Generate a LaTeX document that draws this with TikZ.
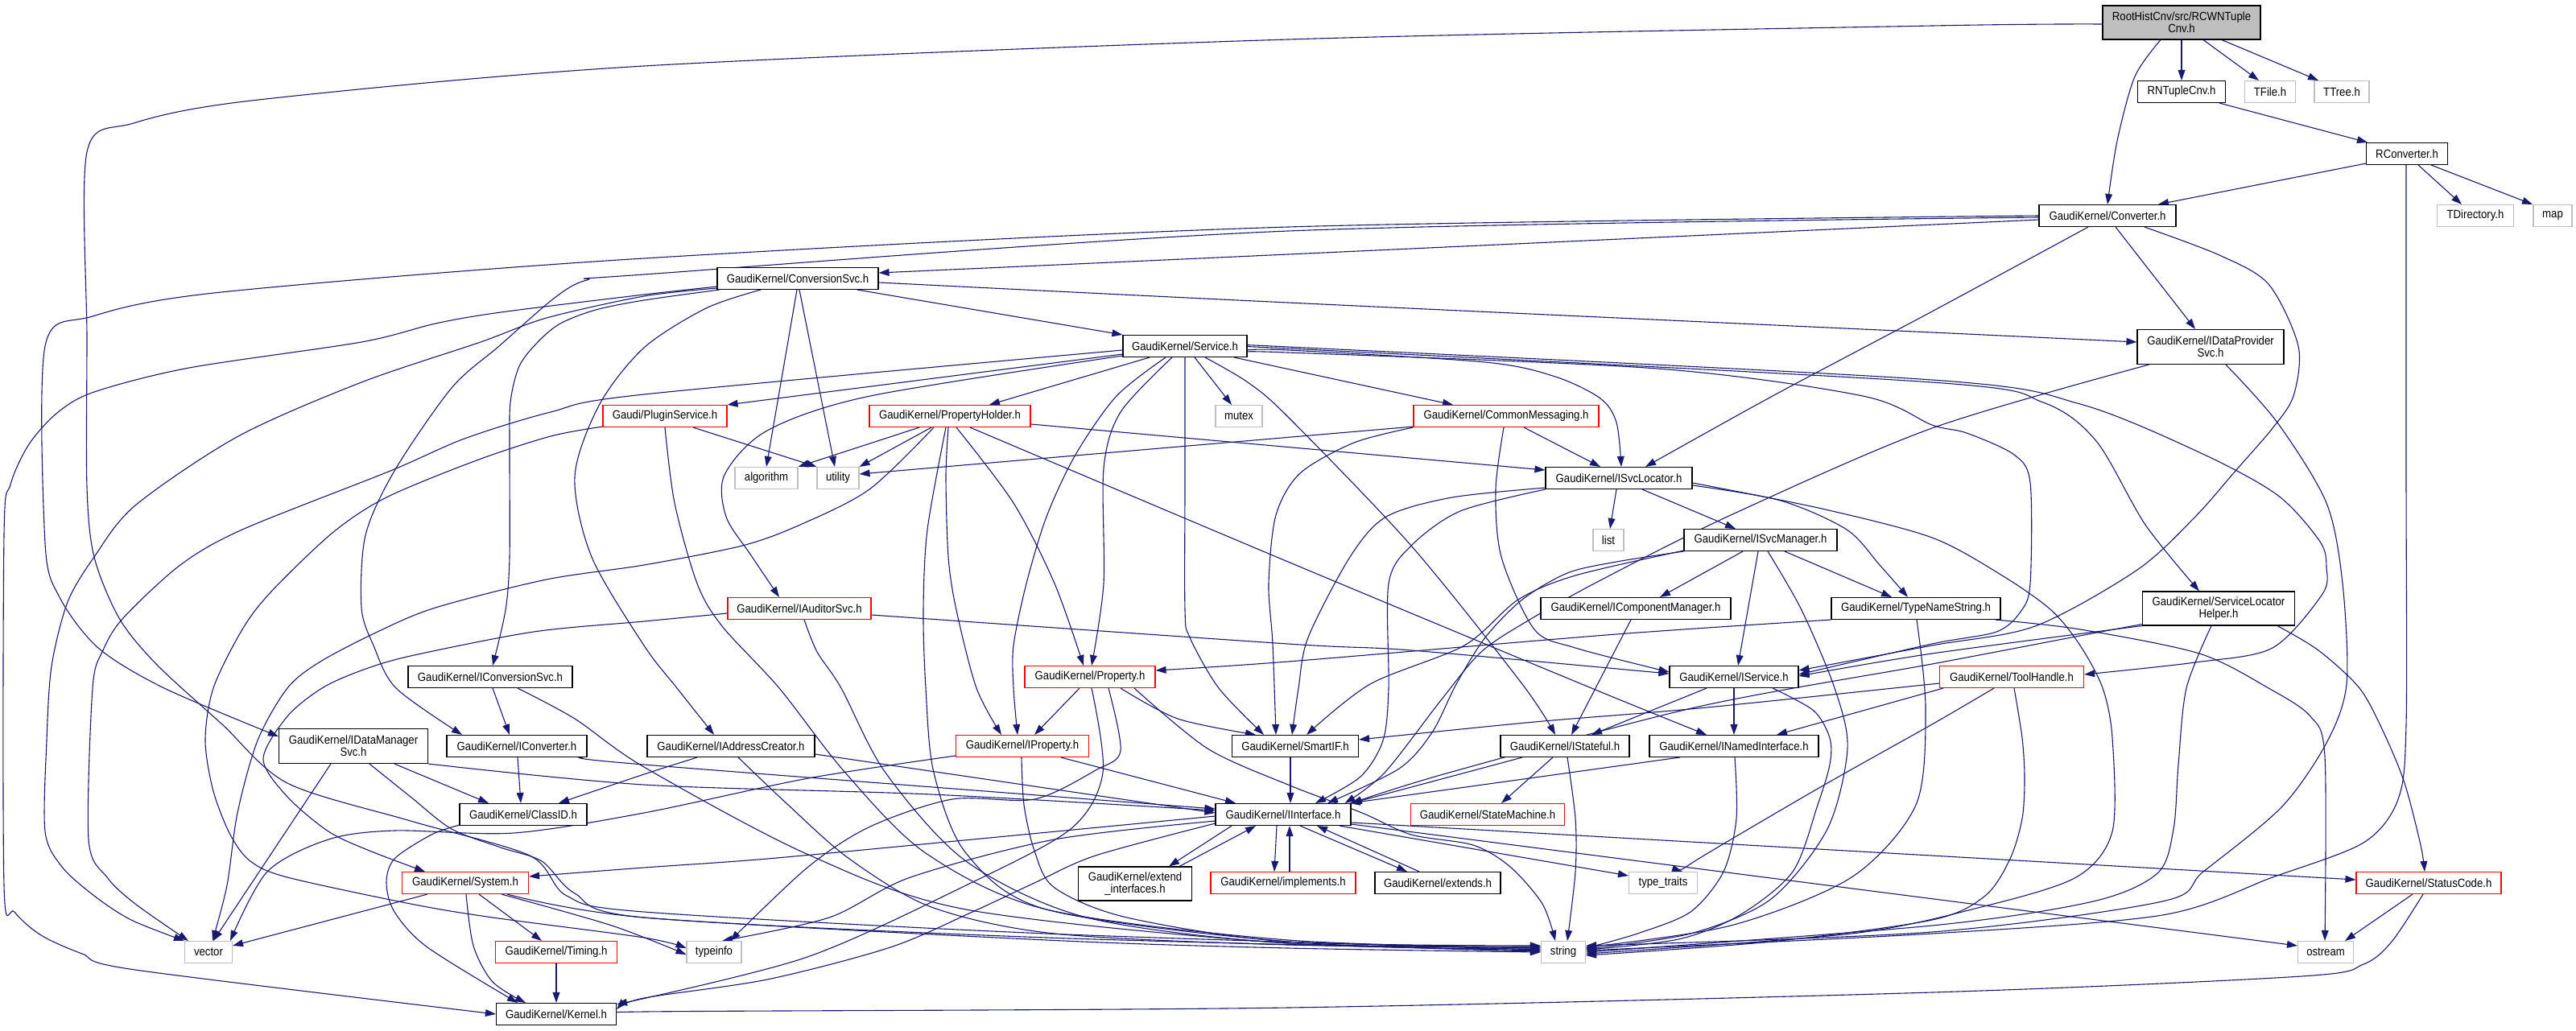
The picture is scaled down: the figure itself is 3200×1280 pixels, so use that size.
\documentclass[tikz,border=0pt]{standalone}
\usepackage{fontspec}
\setmainfont{Liberation Sans}[FakeStretch=0.89]
\usetikzlibrary{calc,arrows.meta}
\definecolor{dblue}{HTML}{191970}
\definecolor{lgray}{HTML}{BFBFBF}
\pgfdeclarelayer{bg}
\pgfsetlayers{bg,main}
\newcommand{\lk}[1]{\draw[lnk] plot[smooth,tension=0.5] coordinates {#1};}
\begin{document}
\begin{tikzpicture}[x=0.5pt,y=-0.5pt,
  box/.style={draw=black,fill=white,line width=0.55pt,inner sep=0pt,minimum height=13.5pt,
    font=\fontsize{7.4}{7.5}\selectfont,align=center},
  rbox/.style={box,draw=red},
  gbox/.style={box,draw=lgray},
  lnk/.style={draw=dblue,line width=0.55pt,-{Triangle[length=6.5pt,width=4.4pt]}}]
\useasboundingbox (0,0) rectangle (3200,1280);
% ---------------- nodes
\node[box,minimum width=98pt,minimum height=21pt,fill=lgray] (root) at (2710,28) {RootHistCnv/src/RCWNTuple\\Cnv.h};
\node[box,minimum width=54.5pt] (rntuple) at (2710,114) {RNTupleCnv.h};
\node[gbox,minimum width=31.5pt] (tfile) at (2820,114) {TFile.h};
\node[gbox,minimum width=34pt] (ttree) at (2909,114) {TTree.h};
\node[box,minimum width=50.5pt] (rconv) at (2990,191) {RConverter.h};
\node[box,minimum width=85pt] (conv) at (2618,268) {GaudiKernel/Converter.h};
\node[gbox,minimum width=47.5pt] (tdir) at (3075,268) {TDirectory.h};
\node[gbox,minimum width=24pt] (map) at (3171,268) {map};
\node[box,minimum width=100pt] (convsvc) at (991,346) {GaudiKernel/ConversionSvc.h};
\node[box,minimum width=77pt] (service) at (1472,430) {GaudiKernel/Service.h};
\node[box,minimum width=91pt,minimum height=21.5pt] (idps) at (2746,431) {GaudiKernel/IDataProvider\\Svc.h};
\node[rbox,minimum width=77pt] (plugin) at (826,517) {Gaudi/PluginService.h};
\node[rbox,minimum width=100pt] (propholder) at (1180,517) {GaudiKernel/PropertyHolder.h};
\node[gbox,minimum width=29pt] (mutex) at (1539,517) {mutex};
\node[rbox,minimum width=115pt] (commsg) at (1871,517) {GaudiKernel/CommonMessaging.h};
\node[gbox,minimum width=39pt] (algorithm) at (952,594) {algorithm};
\node[gbox,minimum width=26pt] (utility) at (1041,594) {utility};
\node[box,minimum width=91pt] (isvcloc) at (2011,594) {GaudiKernel/ISvcLocator.h};
\node[gbox,minimum width=19pt] (list) at (1998,671) {list};
\node[box,minimum width=95pt] (isvcmgr) at (2187,671) {GaudiKernel/ISvcManager.h};
\node[box,minimum width=118pt] (icompmgr) at (2032,756) {GaudiKernel/IComponentManager.h};
\node[box,minimum width=105pt] (typename) at (2380,756) {GaudiKernel/TypeNameString.h};
\node[box,minimum width=94.5pt,minimum height=21pt] (slh) at (2756,756) {GaudiKernel/ServiceLocator\\Helper.h};
\node[rbox,minimum width=89pt] (iauditor) at (993,756) {GaudiKernel/IAuditorSvc.h};
\node[box,minimum width=102pt] (iconvsvc) at (609,841) {GaudiKernel/IConversionSvc.h};
\node[rbox,minimum width=81pt] (property) at (1354,841) {GaudiKernel/Property.h};
\node[box,minimum width=80pt] (iservice) at (2154,841) {GaudiKernel/IService.h};
\node[rbox,minimum width=89.5pt] (toolhandle) at (2499,841) {GaudiKernel/ToolHandle.h};
\node[box,minimum width=92.5pt,minimum height=21.5pt] (idms) at (439,927) {GaudiKernel/IDataManager\\Svc.h};
\node[box,minimum width=87pt] (iconverter) at (642,927) {GaudiKernel/IConverter.h};
\node[box,minimum width=104pt] (iaddr) at (908,927) {GaudiKernel/IAddressCreator.h};
\node[rbox,minimum width=82.5pt] (iproperty) at (1270,927) {GaudiKernel/IProperty.h};
\node[box,minimum width=78.5pt] (smartif) at (1609,927) {GaudiKernel/SmartIF.h};
\node[box,minimum width=80pt] (istateful) at (1944,927) {GaudiKernel/IStateful.h};
\node[box,minimum width=105pt] (inamed) at (2154,927) {GaudiKernel/INamedInterface.h};
\node[box,minimum width=79pt] (classid) at (650,1012) {GaudiKernel/ClassID.h};
\node[box,minimum width=84pt] (iinterface) at (1594,1012) {GaudiKernel/IInterface.h};
\node[rbox,minimum width=95.5pt] (statemachine) at (1848,1012) {GaudiKernel/StateMachine.h};
\node[rbox,minimum width=78.5pt] (system) at (578,1097) {GaudiKernel/System.h};
\node[box,minimum width=70.5pt,minimum height=21pt] (extendif) at (1410,1098) {GaudiKernel/extend\\\_interfaces.h};
\node[rbox,minimum width=90pt] (implements) at (1594,1097) {GaudiKernel/implements.h};
\node[box,minimum width=78pt] (extends) at (1786,1097) {GaudiKernel/extends.h};
\node[gbox,minimum width=42.5pt] (typetraits) at (2066,1097) {type\_traits};
\node[rbox,minimum width=90pt] (statuscode) at (3017,1097) {GaudiKernel/StatusCode.h};
\node[gbox,minimum width=29.5pt] (vector) at (259,1183) {vector};
\node[rbox,minimum width=75.5pt] (timing) at (691,1183) {GaudiKernel/Timing.h};
\node[gbox,minimum width=34pt] (typeinfo) at (887,1183) {typeinfo};
\node[gbox,minimum width=27.5pt] (string) at (1942,1183) {string};
\node[gbox,minimum width=34.5pt] (ostream) at (2889,1183) {ostream};
\node[box,minimum width=74.5pt] (kernel) at (691,1260) {GaudiKernel/Kernel.h};
\begin{pgfonlayer}{bg}
% ---------------- root
\draw[lnk] (root.south) -- (rntuple.north);
\draw[lnk] ($(root.south)+(27,0)$) -- ($(tfile.north)+(-14,0)$);
\draw[lnk] ($(root.south)+(50,0)$) -- ($(ttree.north)+(-29,0)$);
\lk{($(root.south)+(-26,0)$) (2652,95) (2630,175) (conv.north)}
\lk{($(root.west)+(0,2)$) (2400,32) (1600,49) (800,82) (321,124) (166,153) (108,189) (108,420) (108,605) (117,692) (148,768) (194,825) (276,900) (357,973) (510,1020) (658,1063) (704,1113) (800,1133) (1300,1160) ($(string.west)+(0,-3)$)}
% ---------------- rntuple / rconv
\draw[lnk] ($(rntuple.south)+(47,0)$) -- ($(rconv.north)+(-49,0)$);
\draw[lnk] ($(rconv.south)+(-51,-2)$) -- ($(conv.north)+(63,0)$);
\draw[lnk] ($(rconv.south)+(14,0)$) -- ($(tdir.north)+(-17,0)$);
\draw[lnk] ($(rconv.south)+(30,0)$) -- ($(map.north)+(-25,0)$);
\lk{($(rconv.south)+(-1,0)$) (2989,600) (2989,900) (2979,993) (2936,1047) (2823,1090) (2686,1137) (2400,1160) ($(string.east)+(0,-2)$)}
% ---------------- conv
\lk{($(conv.west)+(0,5)$) (1600,316) ($(convsvc.east)+(0,-7)$)}
\lk{(conv.west) (1600,282) (800,321) (275,363) (115,393) (56,430) (56,675) (74,742) (122,805) (204,855) ($(idms.west)+(0,-12)$)}
\lk{($(conv.west)+(0,2)$) (1600,287) (800,341) (729,348) (689,370) (620,430) (561,482) (490,585) (454,665) (449,755) (464,802) (492,855) ($(iconverter.north)+(-68,0)$)}
\lk{($(conv.south)+(-24,0)$) (2400,387) (2202,492) ($(isvcloc.north)+(33,0)$)}
\draw[lnk] ($(conv.south)+(10,0)$) -- ($(idps.north)+(-19,0)$);
\lk{($(conv.south)+(46,0)$) (2757,317) (2818,353) (2855,430) (2849,492) (2823,532) (2777,585) (2727,642) (2655,708) (2528,778) (2400,802) ($(iservice.east)+(0,-8)$)}
% ---------------- convsvc
\draw[lnk] ($(convsvc.south)+(74,0)$) -- (service.north west);
\lk{($(convsvc.east)+(0,5)$) (1600,376) (2400,413) ($(idps.west)+(0,-6)$)}
\draw[lnk] ($(convsvc.south)+(-1,0)$) -- (algorithm.north);
\draw[lnk] ($(convsvc.south)+(2,0)$) -- ($(utility.north)+(-4,0)$);
\lk{($(convsvc.south)+(-46,0)$) (877,383) (800,432) (745,502) (714,592) (735,692) (800,802) (841,855) ($(iaddr.north)+(-21,0)$)}
\lk{($(convsvc.south west)+(3,0)$) (800,373) (740,385) (696,402) (668,425) (645,455) (634,500) (633,560) (633,692) (628,758) ($(iconvsvc.north)+(3,0)$)}
\lk{($(convsvc.south west)+(0,-2)$) (800,368) (679,395) (597,425) (449,475) (296,542) (168,628) (117,692) (84,748) (64,828) (58,920) (56,1033) (77,1077) (117,1113) (163,1143) (vector.north west)}
\lk{($(convsvc.south west)+(0,-4)$) (800,366) (622,388) (541,402) (449,425) (235,457) (117,487) (71,513) (36,552) (13,602) (5,665) (5,1100) (18,1133) (51,1162) (102,1185) (168,1205) (kernel.west)}
% ---------------- service
\draw[lnk] ($(service.west)+(0,10)$) -- (plugin.north east);
\draw[lnk] ($(service.south)+(-44,0)$) -- ($(propholder.north)+(49,0)$);
\draw[lnk] ($(service.south)+(12,0)$) -- ($(mutex.north)+(-9,0)$);
\draw[lnk] ($(service.south)+(61,0)$) -- ($(commsg.north)+(-66,0)$);
\lk{($(service.east)+(0,5)$) (1600,435) (1845,450) (1932,468) (1988,495) (2008,525) ($(isvcloc.north)+(3,0)$)}
\lk{($(service.west)+(0,12)$) (1081,492) (953,535) (900,590) (902,642) (933,690) ($(iauditor.north)+(-25,0)$)}
\lk{($(service.south)+(-16,0)$) (1392,512) (1371,582) (1371,725) ($(property.north)+(2,0)$)}
\lk{($(service.south)+(-24,0)$) (1387,492) (1336,565) (1300,642) (1275,725) (1259,802) (1259,855) ($(iproperty.north)+(-6,0)$)}
\lk{(service.south) (1472,600) (1472,758) (1478,792) (1514,855) ($(smartif.north)+(-39,0)$)}
\lk{($(service.south)+(25,0)$) (1550,475) (1600,518) (1753,678) (1891,850) ($(istateful.north)+(-12,0)$)}
\lk{($(service.east)+(0,8)$) (1600,438) (2059,458) (2314,492) (2400,528) (2443,538) (2502,565) (2522,600) (2522,725) (2510,760) (2480,785) (2400,800) ($(iservice.east)+(0,-3)$)}
\lk{($(service.east)+(0,2)$) (1600,433) (2400,475) (2538,500) (2604,548) (2665,652) ($(slh.north)+(-24,0)$)}
\lk{(service.east) (1600,431) (2400,472) (2584,502) (2732,562) (2829,615) (2882,673) (2890,705) (2885,738) (2823,805) (2727,823) ($(toolhandle.east)+(0,-3)$)}
\lk{($(service.west)+(0,5)$) (800,490) (684,512) (577,545) (485,585) (301,658) (224,702) (153,768) (128,808) (115,855) (110,1043) (133,1090) (168,1123) ($(vector.north)+(-25,0)$)}
% ---------------- plugin
\draw[lnk] ($(plugin.south)+(35,0)$) -- (utility.north west);
\lk{(plugin.south) (838,625) (866,725) (897,778) (968,855) (1050,960) (1150,1060) (1300,1130) (1600,1168) ($(string.west)+(0,-5)$)}
\lk{($(plugin.south west)+(0,-1)$) (684,542) (592,572) (480,618) (413,662) (337,735) (301,782) (265,855) (255,920) (265,983) (286,1037) (311,1070) (357,1090) (510,1123) (612,1140) (800,1165) ($(typeinfo.west)+(0,-5)$)}
% ---------------- propholder
\draw[lnk] ($(propholder.south)+(-38,0)$) -- (algorithm.north east);
\draw[lnk] ($(propholder.south)+(-23,0)$) -- (utility.north east);
\lk{($(propholder.south)+(8,0)$) (1259,625) (1310,725) ($(property.north)+(-8,0)$)}
\lk{($(propholder.south)+(-2,0)$) (1175,592) (1178,692) (1188,758) (1213,855) ($(iproperty.north)+(-26,0)$)}
\draw[lnk] ($(propholder.east)+(0,10)$) -- ($(isvcloc.west)+(0,-10)$);
\lk{($(propholder.south)+(25,0)$) (1600,698) (1977,855) ($(inamed.north)+(-34,0)$)}
\lk{($(propholder.south)+(-20,0)$) (1080,608) (994,652) (922,678) (800,702) (679,720) (541,755) (469,785) (398,822) (357,855) (320,920) (295,1010) (282,1100) ($(vector.north)+(5,0)$)}
\lk{($(propholder.south)+(-5,0)$) (1152,658) (1147,758) (1150,855) (1160,960) (1200,1060) (1300,1130) (1600,1170) ($(string.west)+(0,-1)$)}
% ---------------- commsg
\draw[lnk] ($(commsg.south west)+(0,-1)$) -- ($(utility.east)+(0,-5)$);
\draw[lnk] ($(commsg.south)+(22,0)$) -- ($(isvcloc.north)+(-23,0)$);
\lk{($(commsg.south)+(-3,0)$) (1858,608) (1865,692) (1906,782) (1957,805) ($(iservice.west)+(0,-6)$)}
\lk{(commsg.south west) (1682,550) (1615,588) (1585,640) (1576,725) (1581,800) ($(smartif.north)+(-24,0)$)}
% ---------------- isvcloc
\draw[lnk] ($(isvcloc.south)+(-3,0)$) -- ($(list.north)+(2,0)$);
\draw[lnk] ($(isvcloc.south)+(29,0)$) -- ($(isvcmgr.north)+(-31,0)$);
\lk{($(isvcloc.east)+(0,9)$) (2212,622) (2294,658) (2335,702) ($(typename.north)+(-10,0)$)}
\lk{($(isvcloc.east)+(0,6)$) (2263,632) (2400,668) (2487,715) (2548,758) (2584,802) (2612,855) (2624,917) (2624,1033) (2579,1090) (2461,1127) (2300,1160) ($(string.east)+(0,2)$)}
\lk{($(isvcloc.south west)+(0,-2)$) (1804,618) (1722,642) (1677,692) (1625,792) (1613,855) ($(smartif.north)+(-4,0)$)}
\lk{(isvcloc.south west) (1814,635) (1753,678) (1725,725) (1725,855) (1718,920) (1690,965) ($(iinterface.north)+(40,0)$)}
% ---------------- isvcmgr
\draw[lnk] ($(isvcmgr.south)+(-22,0)$) -- ($(icompmgr.north)+(30,0)$);
\draw[lnk] ($(isvcmgr.south)+(-3,0)$) -- ($(iservice.north)+(5,0)$);
\draw[lnk] ($(isvcmgr.south)+(30,0)$) -- ($(typename.north)+(-30,0)$);
\lk{($(isvcmgr.south)+(9,0)$) (2238,758) (2279,855) (2295,930) (2270,1030) (2200,1117) (2100,1160) ($(string.east)+(0,-4)$)}
\lk{($(isvcmgr.south west)+(0,-1)$) (1957,715) (1886,745) (1819,802) (1702,850) ($(smartif.north)+(14,0)$)}
\lk{(isvcmgr.south west) (2008,698) (1947,712) (1891,745) (1845,792) (1809,850) (1779,910) (1738,955) ($(iinterface.north)+(55,0)$)}
% ---------------- icompmgr / typename / slh / toolhandle / idps
\draw[lnk] ($(icompmgr.south)+(-6,0)$) -- ($(istateful.north)+(8,0)$);
\lk{(typename.south west) (2008,788) (1600,822) ($(property.east)+(0,-8)$)}
\lk{($(typename.south)+(1,0)$) (2392,880) (2380,1000) (2300,1090) (2150,1150) ($(string.east)+(0,-6)$)}
\lk{($(typename.south)+(99,0)$) (2584,782) (2732,812) (2818,855) (2870,890) (2888,940) ($(ostream.north)+(-1,0)$)}
\lk{($(slh.south)+(73,0)$) (2880,808) (2931,855) (2961,910) (2987,973) (3007,1050) ($(statuscode.north)+(-5,0)$)}
\lk{($(slh.south)+(-9,0)$) (2716,855) (2706,950) (2700,1030) (2680,1085) (2600,1120) (2400,1150) (string.east)}
\lk{(slh.south west) (2400,812) ($(iservice.east)+(0,-1)$)}
\lk{($(slh.south west)+(0,-2)$) (2594,788) (2400,825) (2110,878) (1800,960) (iinterface.north east)}
\draw[lnk] ($(toolhandle.south west)+(5,0)$) -- ($(inamed.north)+(53,0)$);
\lk{($(toolhandle.south)+(-22,0)$) (2400,900) (2263,977) (2110,1067) ($(typetraits.north)+(24,0)$)}
\lk{($(toolhandle.south)+(3,0)$) (2512,917) (2515,967) (2512,1017) (2497,1067) (2466,1113) (2400,1143) (2200,1170) ($(string.east)+(0,4)$)}
\lk{($(toolhandle.west)+(0,8)$) (2110,880) (1906,897) ($(smartif.east)+(0,-8)$)}
\lk{($(idps.south west)+(15,0)$) (2400,532) (2150,640) (1990,720) (1900,770) (1840,810) (1790,870) (1720,960) ($(iinterface.north east)+(-8,0)$)}
\lk{($(idps.south)+(19,0)$) (2829,525) (2890,625) (2910,725) (2915,850) (2890,923) (2834,1003) (2737,1083) (2686,1120) (2400,1158) ($(string.east)+(0,-8)$)}
% ---------------- iauditor / iconvsvc / idms / iconverter / iaddr
\lk{($(iauditor.east)+(0,8)$) (1600,800) (1753,808) ($(iservice.west)+(0,-4)$)}
\lk{($(iauditor.west)+(0,6)$) (800,772) (663,785) (510,815) (449,833) (400,855) (357,890) (327,943) (357,990) (408,1033) (459,1057) ($(system.north)+(-50,0)$)}
\lk{($(iauditor.south)+(6,0)$) (1015,810) (1045,855) (1100,960) (1200,1070) (1350,1140) (1600,1172) ($(string.west)+(0,-7)$)}
\draw[lnk] ($(iconvsvc.south)+(3,0)$) -- ($(iconverter.north)+(-9,0)$);
\lk{($(iconvsvc.south)+(34,0)$) (714,893) (800,953) (1000,1060) (1200,1130) (1600,1172) ($(string.west)+(0,-4)$)}
\draw[lnk] ($(idms.south)+(-28,0)$) -- ($(vector.north)+(6,0)$);
\draw[lnk] ($(idms.south)+(51,0)$) -- ($(classid.north)+(-43,0)$);
\lk{($(idms.south)+(20,0)$) (510,990) (561,1030) (622,1053) (673,1070) (714,1110) (800,1140) (1300,1165) ($(string.west)+(0,-2)$)}
\lk{(idms.south east) (800,975) (1157,987) ($(iinterface.west)+(0,-5)$)}
\draw[lnk] ($(iconverter.south)+(1,0)$) -- ($(classid.north)+(-3,0)$);
\lk{($(iconverter.south east)+(-5,0)$) (800,950) ($(iinterface.west)+(0,-7)$)}
\lk{($(iaddr.south)+(-42,0)$) (800,962) ($(classid.north)+(44,0)$)}
\draw[lnk] ($(iaddr.east)+(0,10)$) -- ($(iinterface.west)+(0,-2)$);
\lk{($(iaddr.south)+(9,0)$) (979,1000) (1055,1067) (1157,1127) (1310,1160) (1600,1174) ($(string.west)+(0,-6)$)}
% ---------------- iproperty / property / smartif
\draw[lnk] ($(iproperty.south)+(48,0)$) -- ($(iinterface.north)+(-59,0)$);
\lk{($(iproperty.south)+(-1,0)$) (1272,1000) (1285,1057) (1310,1103) (1400,1140) (1600,1170) ($(string.west)+(0,-8)$)}
\lk{($(iproperty.west)+(0,12)$) (1004,967) (800,1010) (638,1035) (490,1032) (408,1043) (332,1083) ($(vector.north east)+(-3,0)$)}
\draw[lnk] ($(property.south)+(-13,0)$) -- ($(iproperty.north)+(15,0)$);
\lk{($(property.south)+(38,0)$) (1463,893) ($(smartif.north)+(-49,0)$)}
\lk{($(property.south)+(23,0)$) (1392,933) (1361,957) (1285,993) (1183,993) (1081,1027) (1004,1077) ($(typeinfo.north)+(20,0)$)}
\lk{($(property.south)+(2,0)$) (1370,960) (1330,1030) (1200,1100) (1000,1190) ($(kernel.east)+(0,-12)$)}
\lk{($(property.south)+(55,0)$) (1500,930) (1600,975) (1692,1010) (1753,1037) (1830,1050) (1876,1077) (1916,1123) ($(string.north)+(-10,0)$)}
\draw[lnk] ($(smartif.south)+(-6,0)$) -- ($(iinterface.north)+(9,0)$);
% ---------------- istateful / inamed / iservice
\draw[lnk] ($(istateful.south)+(-53,0)$) -- (iinterface.north east);
\draw[lnk] ($(istateful.south)+(-15,0)$) -- ($(statemachine.north)+(17,0)$);
\lk{($(istateful.south)+(3,0)$) (1957,1017) (1957,1083) ($(string.north)+(5,0)$)}
\draw[lnk] ($(inamed.south west)+(38,0)$) -- ($(iinterface.north east)+(-2,0)$);
\lk{($(inamed.south)+(1,0)$) (2157,1017) (2141,1083) (2100,1133) (2034,1160) ($(string.east)+(0,-5)$)}
\draw[lnk] ($(iservice.south)+(-34,0)$) -- ($(istateful.north)+(33,0)$);
\draw[lnk] (iservice.south) -- (inamed.north);
\lk{($(iservice.south)+(48,0)$) (2253,883) (2273,917) (2273,950) (2258,1000) (2227,1083) (2161,1137) (2085,1167) ($(string.east)+(0,-3)$)}
% ---------------- classid / iinterface
\lk{($(classid.south west)+(0,-1)$) (536,1037) (490,1067) (480,1097) (490,1133) (531,1177) ($(kernel.north)+(-48,0)$)}
\lk{($(iinterface.south west)+(0,-3)$) (1361,1063) (1285,1097) (1208,1133) (1106,1177) (953,1217) (800,1240) ($(kernel.east)+(0,-6)$)}
\lk{($(iinterface.west)+(0,2)$) (1208,1043) (953,1067) (800,1078) ($(system.east)+(0,-8)$)}
\lk{($(iinterface.south west)+(0,-6)$) (1310,1043) (1131,1090) (1030,1140) ($(typeinfo.north)+(10,0)$)}
\draw[lnk] ($(iinterface.south)+(-64,0)$) -- ($(extendif.north)+(42,0)$);
\draw[lnk] ($(extendif.north)+(55,0)$) -- ($(iinterface.south)+(-34,0)$);
\draw[lnk] ($(iinterface.south)+(-8,0)$) -- ($(implements.north)+(-11,0)$);
\draw[lnk] ($(implements.north)+(8,0)$) -- ($(iinterface.south)+(8,0)$);
\draw[lnk] ($(iinterface.south)+(21,0)$) -- ($(extends.north)+(-38,0)$);
\draw[lnk] ($(extends.north)+(-23,0)$) -- ($(iinterface.south)+(42,0)$);
\draw[lnk] ($(iinterface.south)+(70,0)$) -- ($(typetraits.west)+(0,-9)$);
\draw[lnk] ($(iinterface.east)+(0,10)$) -- ($(statuscode.west)+(0,-4)$);
\draw[lnk] ($(iinterface.east)+(0,12)$) -- ($(ostream.west)+(0,-8)$);
% ---------------- system / timing / statuscode
\draw[lnk] ($(system.south west)+(32,0)$) -- ($(vector.east)+(0,-8)$);
\lk{($(system.south)+(1,0)$) (588,1175) (612,1220) ($(kernel.north)+(-38,0)$)}
\draw[lnk] ($(system.south)+(17,0)$) -- ($(timing.north)+(-18,0)$);
\lk{($(system.south)+(45,0)$) (760,1150) ($(typeinfo.west)+(0,3)$)}
\lk{($(system.south)+(52,0)$) (800,1140) (1300,1168) (1600,1178) (string.west)}
\draw[lnk] (timing.south) -- (kernel.north);
\draw[lnk] ($(statuscode.south)+(-20,0)$) -- ($(ostream.north)+(24,0)$);
\lk{($(statuscode.south)+(-7,0)$) (2971,1170) (2936,1198) (2859,1213) (2400,1233) (1600,1252) (800,1257) ($(kernel.east)+(0,2)$)}
\end{pgfonlayer}
\end{tikzpicture}
\end{document}
